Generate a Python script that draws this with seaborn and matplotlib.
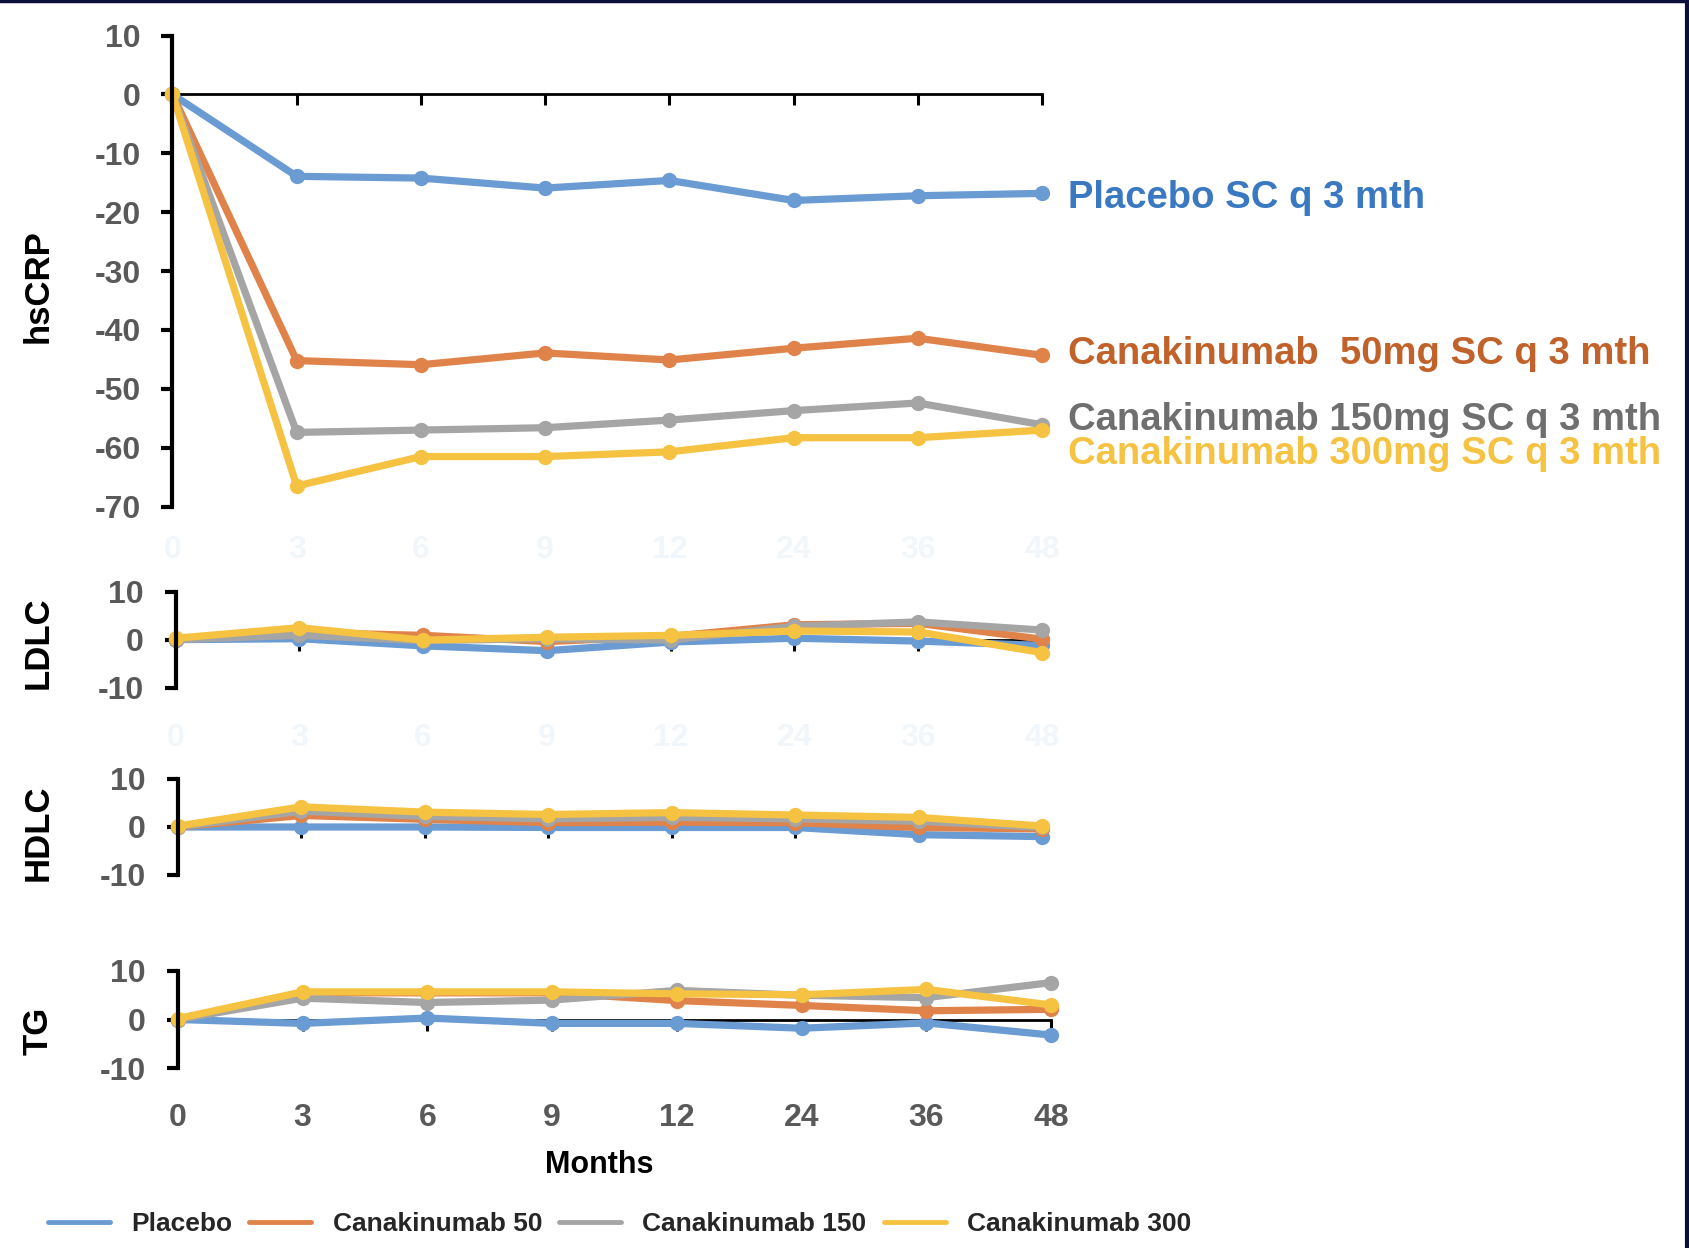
import pandas as pd
import seaborn as sns
from matplotlib import pyplot as plt
from matplotlib.lines import Line2D

# x categories (months) and the four treatment groups
months = ['0', '3', '6', '9', '12', '24', '36', '48']
groups = ['Placebo', 'Canakinumab 50', 'Canakinumab 150', 'Canakinumab 300']
line_colors = ['#6a9bd2', '#e0834a', '#a5a5a5', '#f5c242']

# % change from baseline
hscrp_placebo = [0, -13.9, -14.2, -15.9, -14.6, -18.0, -17.2, -16.8]
hscrp_cana50 = [0, -45.2, -45.9, -43.9, -45.1, -43.1, -41.4, -44.3]
hscrp_cana150 = [0, -57.4, -57.0, -56.6, -55.3, -53.7, -52.4, -56.1]
hscrp_cana300 = [0, -66.5, -61.5, -61.5, -60.7, -58.3, -58.3, -57.0]

ldlc_placebo = [0, 0.2, -1.3, -2.3, -0.5, 0.3, -0.3, -1.2]
ldlc_cana50 = [0, 1.5, 0.9, -0.4, 0.7, 3.1, 3.4, 0.1]
ldlc_cana150 = [0, 0.9, -0.2, 0.2, -0.1, 2.8, 3.7, 2.0]
ldlc_cana300 = [0.3, 2.5, -0.1, 0.5, 0.9, 1.8, 1.6, -2.7]

hdlc_placebo = [0, 0, 0, -0.1, -0.1, -0.1, -1.6, -2.0]
hdlc_cana50 = [0, 2.4, 1.6, 0.9, 1.0, 0.9, -0.1, -0.4]
hdlc_cana150 = [0, 3.3, 2.2, 1.7, 2.0, 1.7, 1.2, -0.1]
hdlc_cana300 = [0.2, 4.2, 3.1, 2.6, 3.0, 2.5, 2.0, 0.2]

tg_placebo = [0, -0.8, 0.3, -0.8, -0.8, -1.8, -0.7, -3.2]
tg_cana50 = [0, 5.5, 5.5, 5.5, 3.9, 2.9, 1.8, 2.1]
tg_cana150 = [0, 4.4, 3.5, 4.0, 6.0, 5.0, 4.5, 7.6]
tg_cana300 = [0.2, 5.7, 5.7, 5.7, 5.3, 5.1, 6.2, 3.0]

# right-hand labels of the hsCRP panel
end_labels = ['Placebo SC q 3 mth', 'Canakinumab  50mg SC q 3 mth',
              'Canakinumab 150mg SC q 3 mth', 'Canakinumab 300mg SC q 3 mth']
end_label_colors = ['#3a78c2', '#c1622b', '#6f6f6f', '#f5c242']

TICK_GRAY = '#595959'
W, H = 1690, 1248


def long_frame(series):
    """Stack the four group series of one panel into a long DataFrame."""
    rows = []
    for group, values in zip(groups, series):
        for month, value in zip(months, values):
            rows.append({'month': month, 'group': group, 'value': value})
    return pd.DataFrame(rows)


def draw_panel(fig, box, series, ylim, yticks, label, label_y, xlab_pad,
               xlab_color, show_xlabels=True):
    """Draw one panel; box is (left, top, right, bottom) in pixels."""
    left, top, right, bottom = box
    ax = fig.add_axes([left / W, 1 - bottom / H, (right - left) / W, (bottom - top) / H])
    sns.pointplot(ax=ax, data=long_frame(series), x='month', y='value',
                  hue='group', hue_order=groups, order=months,
                  palette=line_colors, errorbar=None, markers='o',
                  linewidth=5.2, markersize=11, markeredgewidth=0, legend=False)
    for line in ax.lines:
        line.set_clip_on(False)

    ax.set_xlim(0, len(months) - 1)
    ax.set_ylim(*ylim)
    ax.set_yticks(yticks)
    ax.set_xlabel('')
    ax.set_ylabel('')

    # Excel-like axes: horizontal axis crosses at zero
    for side in ['top', 'right']:
        ax.spines[side].set_visible(False)
    ax.spines['left'].set_linewidth(3)
    ax.spines['left'].set_color('black')
    ax.spines['bottom'].set_position(('data', 0))
    ax.spines['bottom'].set_linewidth(2)
    ax.spines['bottom'].set_color('black')
    ax.spines['bottom'].set_zorder(0.5)

    ax.tick_params(axis='y', left=True, direction='out', length=8, width=3,
                   color='black', labelsize=23, labelcolor=TICK_GRAY, pad=15)
    ax.tick_params(axis='x', bottom=True, direction='out', length=8, width=2.2,
                   color='black', labelsize=23, labelcolor=xlab_color, pad=xlab_pad,
                   labelbottom=show_xlabels)
    for t in ax.get_yticklabels() + ax.get_xticklabels():
        t.set_fontweight('bold')

    fig.text(38 / W, 1 - label_y / H, label, rotation=90, ha='center',
             va='center', fontsize=25, fontweight='bold', color='black')
    return ax


def main():
    sns.set_style('white')
    plt.rcParams['font.family'] = ['Liberation Sans', 'DejaVu Sans']
    plt.rcParams['font.weight'] = 'bold'
    plt.rcParams['axes.unicode_minus'] = False

    fig = plt.figure(figsize=(W / 100, H / 100), dpi=100)

    faint = '#f1f6fb'
    draw_panel(fig, (172.5, 35.6, 1042, 506.6),
               [hscrp_placebo, hscrp_cana50, hscrp_cana150, hscrp_cana300],
               (-70, 10), list(range(10, -80, -10)), 'hsCRP', 286,
               xlab_pad=309, xlab_color=faint)
    draw_panel(fig, (175.7, 591.7, 1042, 687.6),
               [ldlc_placebo, ldlc_cana50, ldlc_cana150, ldlc_cana300],
               (-10, 10), [10, 0, -10], 'LDLC', 643,
               xlab_pad=52, xlab_color=faint)
    draw_panel(fig, (177.8, 779, 1042, 875),
               [hdlc_placebo, hdlc_cana50, hdlc_cana150, hdlc_cana300],
               (-10, 10), [10, 0, -10], 'HDLC', 833,
               xlab_pad=52, xlab_color=faint, show_xlabels=False)
    draw_panel(fig, (177.8, 971, 1051, 1068),
               [tg_placebo, tg_cana50, tg_cana150, tg_cana300],
               (-10, 10), [10, 0, -10], 'TG', 1031,
               xlab_pad=52, xlab_color=TICK_GRAY)

    fig.text(599 / W, 1 - 1165 / H, 'Months', ha='center', va='center',
             fontsize=22, fontweight='bold', color='black')

    # series labels to the right of the hsCRP panel
    for text, color, ypix in zip(end_labels, end_label_colors, [198.5, 354.5, 419.5, 454]):
        fig.text(1068 / W, 1 - ypix / H, text, ha='left', va='center',
                 fontsize=27.5, fontweight='bold', color=color)

    handles = [Line2D([], [], color=c, lw=3.5) for c in line_colors]
    fig.legend(handles, groups, loc='center left', bbox_to_anchor=(48 / W, 1 - 1224 / H),
               ncol=4, frameon=False, handlelength=2.35,
               handletextpad=0.8, columnspacing=0.65, borderpad=0, borderaxespad=0,
               prop={'weight': 'bold', 'size': 19})

    # dark slide frame on the top and right edges
    fig.add_artist(Line2D([0, 1], [0.999, 0.999], transform=fig.transFigure,
                          color='#0b0f3a', lw=2.5))
    fig.add_artist(Line2D([0.9985, 0.9985], [0, 1], transform=fig.transFigure,
                          color='#0b0f3a', lw=3))

    fig.savefig('out.png', dpi=100)


if __name__ == '__main__':
    main()
